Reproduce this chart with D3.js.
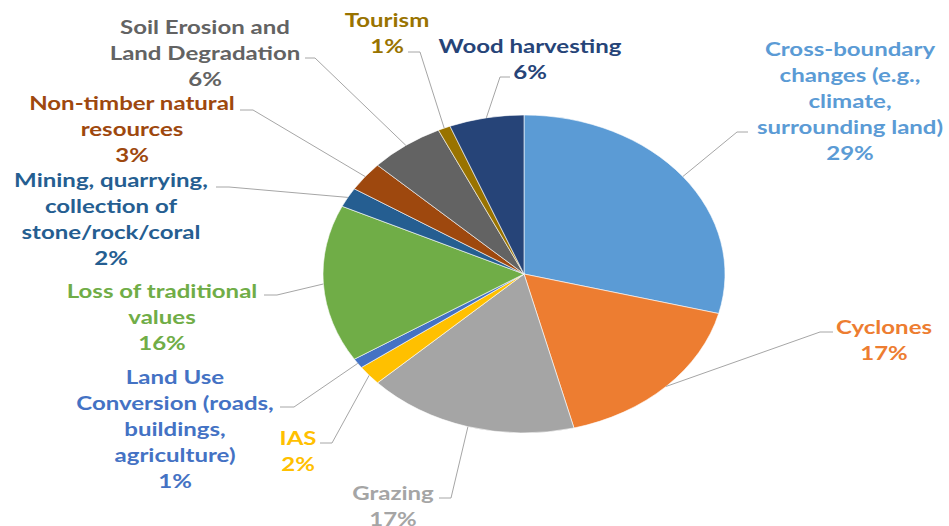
<!DOCTYPE html>
<html>
<head>
<meta charset="utf-8">
<script src="https://cdn.jsdelivr.net/npm/d3@7"></script>
<style>
  html, body { margin: 0; padding: 0; background: #fff; }
  svg { display: block; }
  text { font-family: Lato, "Open Sans", sans-serif; font-weight: 700; }
</style>
</head>
<body>
<svg id="chart" width="949" height="526"></svg>
<script>
// Threat categories, clockwise from 12 o'clock
const categories = [
  "Cross-boundary changes (e.g., climate, surrounding land)",
  "Cyclones",
  "Grazing",
  "IAS",
  "Land Use Conversion (roads, buildings, agriculture)",
  "Loss of traditional values",
  "Mining, quarrying, collection of stone/rock/coral",
  "Non-timber natural resources",
  "Soil Erosion and Land Degradation",
  "Tourism",
  "Wood harvesting"
];

// Share of responses, percent
const values = [29, 17, 17, 2, 1, 16, 2, 3, 6, 1, 6];

// Wrapped label lines for each category
const labelLines = [
  ["Cross-boundary", "changes (e.g.,", "climate,", "surrounding land)"],
  ["Cyclones"],
  ["Grazing"],
  ["IAS"],
  ["Land Use", "Conversion (roads,", "buildings,", "agriculture)"],
  ["Loss of traditional", "values"],
  ["Mining, quarrying,", "collection of", "stone/rock/coral"],
  ["Non-timber natural", "resources"],
  ["Soil Erosion and", "Land Degradation"],
  ["Tourism"],
  ["Wood harvesting"]
];

const colors = ["#5B9BD5", "#ED7D31", "#A5A5A5", "#FFC000", "#4472C4", "#70AD47",
                "#255E91", "#9E480E", "#636363", "#997300", "#264478"];

// ---- layout ----
const width = 949, height = 526;
const cx = 524, cy = 274, rx = 201, ry = 159;
const sx = rx / ry;             // horizontal stretch of the whole figure
const lineH = 26, fontSize = 19;

// label block centre x, first line y, leader start [x,y], leader elbow [x,y]
const labelLayout = [
  { x: 850, y: 49,  start: [748, 132], elbow: [737, 132] },
  { x: 884, y: 327, start: [833, 332], elbow: [820, 332] },
  { x: 393, y: 493, start: [439, 498], elbow: [451, 498] },
  { x: 298, y: 438, start: [320, 443], elbow: [332, 443] },
  { x: 175, y: 377, start: [280, 407], elbow: [294, 407] },
  { x: 162, y: 291, start: [264, 295], elbow: [277, 295] },
  { x: 111, y: 180, start: [216, 187], elbow: [229, 187] },
  { x: 132, y: 103, start: [240, 110], elbow: [253, 110] },
  { x: 205, y: 27,  start: [305, 58],  elbow: [315, 58] },
  { x: 387, y: 20,  start: [408, 52],  elbow: [420, 52] },
  { x: 530, y: 46,  start: [510, 77],  elbow: [500, 77] }
];

const svg = d3.select("#chart");

const pie = d3.pie().sort(null).value(d => d)(values);
const arc = d3.arc().innerRadius(0).outerRadius(ry);

// Pie, drawn on a circle and stretched horizontally
const pieG = svg.append("g")
  .attr("transform", `translate(${cx},${cy}) scale(${sx},1)`);

pieG.selectAll("path")
  .data(pie)
  .join("path")
  .attr("d", arc)
  .attr("fill", (d, i) => colors[i])
  .attr("stroke", "#fff")
  .attr("stroke-width", 0.6)
  .attr("vector-effect", "non-scaling-stroke");

// Point on the pie rim at the slice's mid-angle
function rimPoint(d) {
  const a = (d.startAngle + d.endAngle) / 2;
  return [cx + rx * Math.sin(a), cy - ry * Math.cos(a)];
}

// Leader lines
svg.append("g")
  .selectAll("polyline")
  .data(pie)
  .join("polyline")
  .attr("points", (d, i) => {
    const L = labelLayout[i];
    return [L.start, L.elbow, rimPoint(d)].map(p => p.join(",")).join(" ");
  })
  .attr("fill", "none")
  .attr("stroke", "#A6A6A6")
  .attr("stroke-width", 1);

// Labels: category name lines followed by the percentage
const labels = svg.append("g")
  .selectAll("g")
  .data(pie)
  .join("g")
  .attr("transform", (d, i) => `translate(${labelLayout[i].x},${labelLayout[i].y}) scale(${sx},1)`);

labels.each(function(d, i) {
  const lines = labelLines[i].concat([`${values[i]}%`]);
  d3.select(this).selectAll("text")
    .data(lines)
    .join("text")
    .attr("x", 0)
    .attr("y", (t, j) => j * lineH)
    .attr("dy", "0.35em")
    .attr("text-anchor", "middle")
    .attr("font-size", fontSize)
    .attr("fill", colors[i])
    .text(t => t);
});
</script>
</body>
</html>
